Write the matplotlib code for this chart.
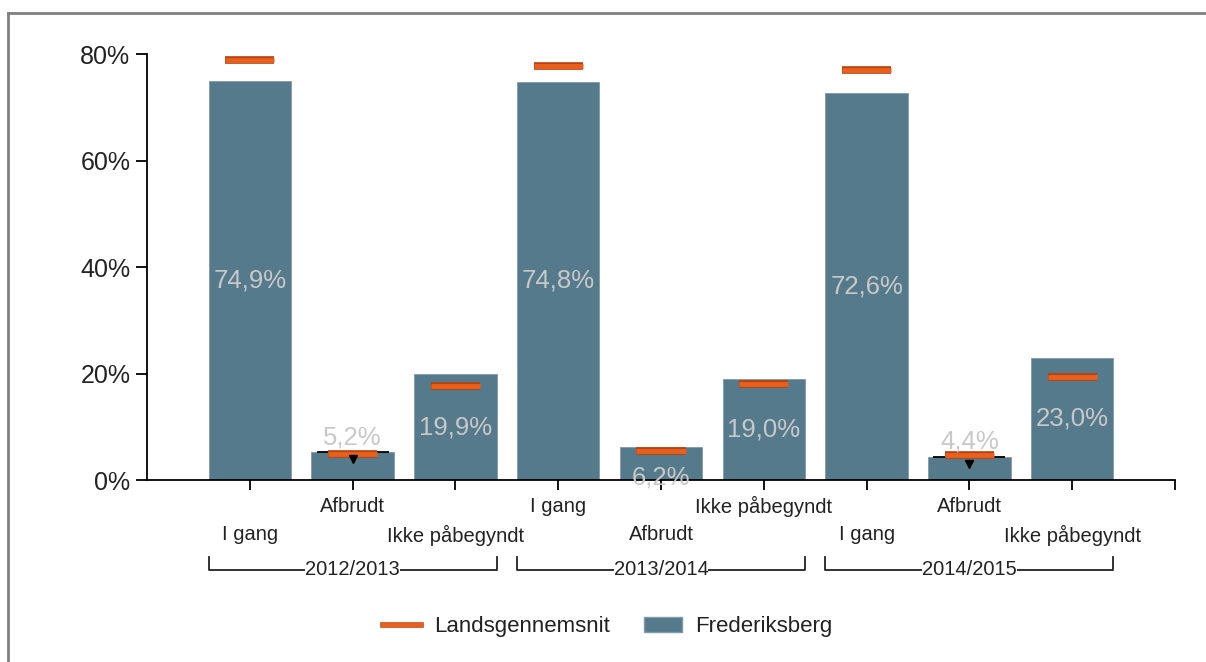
import numpy as np
import matplotlib.pyplot as plt
from matplotlib import patheffects as pe
from matplotlib.lines import Line2D
from matplotlib.patches import Patch

plt.rcParams['font.family'] = ['Liberation Sans', 'DejaVu Sans']

# data
years = ["2012/2013", "2013/2014", "2014/2015"]
categories = ["I gang", "Afbrudt", "Ikke påbegyndt"]
frederiksberg = [74.9, 5.2, 19.9, 74.8, 6.2, 19.0, 72.6, 4.4, 23.0]
landsgennemsnit = [78.9, 4.9, 17.7, 77.7, 5.4, 18.0, 77.0, 4.7, 19.3]
value_labels = ["74,9%", "5,2%", "19,9%", "74,8%", "6,2%", "19,0%", "72,6%", "4,4%", "23,0%"]
label_pos = ["mid", "above", "mid", "mid", "bottom", "mid", "mid", "above", "mid"]
sig_marker = [False, True, False, False, False, False, False, True, False]
label_row = [2, 1, 2, 1, 2, 1, 2, 1, 2]

bar_color = "#557a8c"
orange = "#e8601c"
txt = "#222222"

fig = plt.figure(figsize=(12.06, 6.62), dpi=100)
ax = fig.add_axes([0.1219, 0.2749, 0.8524, 0.6435])

x = np.arange(1, len(frederiksberg) + 1)
ax.bar(x, frederiksberg, width=0.8, color=bar_color, edgecolor="#7f9aa8", linewidth=0.6, zorder=2)

# national average markers
ax.hlines(landsgennemsnit, x - 0.24, x + 0.24, color=orange, linewidth=3.5, zorder=4,
          clip_on=False,
          path_effects=[pe.Stroke(linewidth=5.5, foreground="#b8420f"), pe.Normal()])

# small black significance marks
for xi, v, s in zip(x, frederiksberg, sig_marker):
    if s:
        ax.hlines(v, xi - 0.35, xi + 0.35, color="black", linewidth=1.3, zorder=3)
        ax.plot(xi, v - 1.3, marker="v", color="black", markersize=6, zorder=5)

# value labels
for xi, v, lab, p in zip(x, frederiksberg, value_labels, label_pos):
    if p == "mid":
        ax.text(xi, v / 2, lab, ha="center", va="center", fontsize=18.5, color="#c8c8c8", zorder=6)
    elif p == "above":
        ax.annotate(lab, (xi, v), xytext=(0, 2), textcoords="offset points",
                    ha="center", va="bottom", fontsize=18.5, color="#c8c8c8", zorder=6)
    else:
        ax.annotate(lab, (xi, 0), xytext=(0, 2), textcoords="offset points",
                    ha="center", va="center", fontsize=18.5, color="#c8c8c8", zorder=6)

ax.set_xlim(0, 10)
ax.set_ylim(0, 80)
ax.set_yticks([0, 20, 40, 60, 80])
ax.set_yticklabels(["0%", "20%", "40%", "60%", "80%"])
ax.tick_params(axis="y", labelsize=18, labelcolor=txt, length=8, width=1.3, direction="out", pad=4)
ax.set_xticks(list(x) + [10])
ax.set_xticklabels([])
ax.tick_params(axis="x", length=7, width=1.3, direction="out")

for sp in ["top", "right"]:
    ax.spines[sp].set_visible(False)
ax.spines["left"].set_linewidth(1.3)
ax.spines["bottom"].set_linewidth(1.3)

# staggered category labels
row_y = {1: -0.061, 2: -0.129}
for i, xi in enumerate(x):
    ax.text(xi, row_y[label_row[i]], categories[i % 3], transform=ax.get_xaxis_transform(),
            ha="center", va="center", fontsize=14.5, color=txt)

# group brackets
tr = ax.get_xaxis_transform()
for g, yr in enumerate(years):
    left = x[g * 3] - 0.4
    right = x[g * 3 + 2] + 0.4
    ax.plot([left, left, right, right], [-0.181, -0.211, -0.211, -0.181], transform=tr,
            color="#222222", linewidth=1.3, clip_on=False)
    ax.text(x[g * 3 + 1], -0.211, yr, transform=tr, ha="center", va="center", fontsize=14.5,
            color=txt, bbox=dict(facecolor="white", edgecolor="none", pad=0))

# legend
handles = [Line2D([0], [0], color=orange, linewidth=3,
                  path_effects=[pe.Stroke(linewidth=4, foreground="#b8420f"), pe.Normal()]),
           Patch(facecolor=bar_color, edgecolor="#7f9aa8")]
fig.legend(handles, ["Landsgennemsnit", "Frederiksberg"], loc="center", ncol=2,
           bbox_to_anchor=(0.504, 0.053), frameon=False, fontsize=16, handlelength=1.7,
           handletextpad=0.6, columnspacing=1.5, labelcolor=txt)

# outer frame (top and left edges)
fig.add_artist(Line2D([0.0066, 1.0], [0.981, 0.981], transform=fig.transFigure, color="#808080", linewidth=2))
fig.add_artist(Line2D([0.0066, 0.0066], [0.0, 0.981], transform=fig.transFigure, color="#808080", linewidth=2))

fig.savefig("out.png", dpi=100)
